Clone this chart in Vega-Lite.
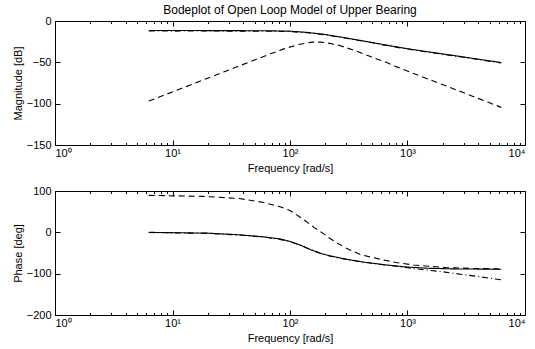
{
  "$schema": "https://vega.github.io/schema/vega-lite/v6.json",
  "padding": {"left": 11, "top": 3, "right": 0, "bottom": 0},
  "background": "white",
  "config": {
    "view": {"stroke": "black", "strokeWidth": 1},
    "font": "Liberation Sans",
    "axis": {
      "domain": false, "grid": false,
      "labelFont": "Liberation Sans", "labelFontSize": 11, "labelColor": "black",
      "titleFont": "Liberation Sans", "titleFontSize": 11, "titleFontWeight": "normal", "titleColor": "black",
      "tickColor": "black", "tickWidth": 1
    }
  },
  "spacing": 10,
  "datasets": {
    "mag": [
      {"f": 6.283, "v": -11.5, "s": "solid"}, {"f": 10, "v": -11.5, "s": "solid"}, {"f": 20, "v": -11.6, "s": "solid"}, {"f": 40, "v": -11.7, "s": "solid"}, {"f": 70, "v": -11.9, "s": "solid"}, {"f": 100, "v": -12.3, "s": "solid"}, {"f": 140, "v": -13.8, "s": "solid"}, {"f": 200, "v": -16.3, "s": "solid"}, {"f": 300, "v": -20.5, "s": "solid"}, {"f": 500, "v": -26, "s": "solid"}, {"f": 700, "v": -29.8, "s": "solid"}, {"f": 1000, "v": -33.5, "s": "solid"}, {"f": 1500, "v": -37.3, "s": "solid"}, {"f": 3000, "v": -43.5, "s": "solid"}, {"f": 6283, "v": -50.3, "s": "solid"},
      {"f": 6.283, "v": -12.1, "s": "dashdot"}, {"f": 10, "v": -12.2, "s": "dashdot"}, {"f": 20, "v": -12.1, "s": "dashdot"}, {"f": 40, "v": -12.3, "s": "dashdot"}, {"f": 70, "v": -12.4, "s": "dashdot"}, {"f": 100, "v": -12.8, "s": "dashdot"}, {"f": 140, "v": -14.2, "s": "dashdot"}, {"f": 200, "v": -16.7, "s": "dashdot"}, {"f": 300, "v": -20.9, "s": "dashdot"}, {"f": 500, "v": -26.4, "s": "dashdot"}, {"f": 700, "v": -30.2, "s": "dashdot"}, {"f": 1000, "v": -33.9, "s": "dashdot"}, {"f": 1500, "v": -37.7, "s": "dashdot"}, {"f": 3000, "v": -43.9, "s": "dashdot"}, {"f": 6283, "v": -50.8, "s": "dashdot"},
      {"f": 6.283, "v": -96.9, "s": "dashed"}, {"f": 12.3, "v": -80.8, "s": "dashed"}, {"f": 27.2, "v": -61.7, "s": "dashed"}, {"f": 60.5, "v": -42.6, "s": "dashed"}, {"f": 90, "v": -33.4, "s": "dashed"}, {"f": 118, "v": -28.5, "s": "dashed"}, {"f": 153, "v": -25.6, "s": "dashed"}, {"f": 180, "v": -25.5, "s": "dashed"}, {"f": 200, "v": -26.1, "s": "dashed"}, {"f": 261, "v": -29.4, "s": "dashed"}, {"f": 364, "v": -36.2, "s": "dashed"}, {"f": 508, "v": -44.2, "s": "dashed"}, {"f": 660, "v": -50, "s": "dashed"}, {"f": 809, "v": -55.5, "s": "dashed"}, {"f": 1290, "v": -66.7, "s": "dashed"}, {"f": 1920, "v": -76.1, "s": "dashed"}, {"f": 3055, "v": -87.2, "s": "dashed"}, {"f": 4875, "v": -98.4, "s": "dashed"}, {"f": 6283, "v": -104.5, "s": "dashed"}
    ],
    "phase": [
      {"f": 6.283, "v": 0, "s": "solid"}, {"f": 20, "v": -2, "s": "solid"}, {"f": 37, "v": -6, "s": "solid"}, {"f": 60, "v": -11, "s": "solid"}, {"f": 82, "v": -16, "s": "solid"}, {"f": 100, "v": -22, "s": "solid"}, {"f": 125, "v": -32, "s": "solid"}, {"f": 150, "v": -42, "s": "solid"}, {"f": 180, "v": -50.5, "s": "solid"}, {"f": 220, "v": -57, "s": "solid"}, {"f": 300, "v": -65, "s": "solid"}, {"f": 420, "v": -72, "s": "solid"}, {"f": 665, "v": -79, "s": "solid"}, {"f": 1000, "v": -84, "s": "solid"}, {"f": 1500, "v": -87, "s": "solid"}, {"f": 2500, "v": -88.5, "s": "solid"}, {"f": 6283, "v": -89.3, "s": "solid"},
      {"f": 6.283, "v": -0.5, "s": "dashdot"}, {"f": 20, "v": -2.5, "s": "dashdot"}, {"f": 37, "v": -6.5, "s": "dashdot"}, {"f": 60, "v": -11.5, "s": "dashdot"}, {"f": 82, "v": -17, "s": "dashdot"}, {"f": 100, "v": -22.5, "s": "dashdot"}, {"f": 125, "v": -32, "s": "dashdot"}, {"f": 150, "v": -42, "s": "dashdot"}, {"f": 180, "v": -50, "s": "dashdot"}, {"f": 220, "v": -57.5, "s": "dashdot"}, {"f": 300, "v": -65.5, "s": "dashdot"}, {"f": 420, "v": -72, "s": "dashdot"}, {"f": 665, "v": -79.5, "s": "dashdot"}, {"f": 1000, "v": -85.5, "s": "dashdot"}, {"f": 1277, "v": -89.5, "s": "dashdot"}, {"f": 2000, "v": -95.5, "s": "dashdot"}, {"f": 2455, "v": -99, "s": "dashdot"}, {"f": 4000, "v": -107, "s": "dashdot"}, {"f": 6283, "v": -115, "s": "dashdot"},
      {"f": 6.283, "v": 89.5, "s": "dashed"}, {"f": 18, "v": 87, "s": "dashed"}, {"f": 37, "v": 82, "s": "dashed"}, {"f": 60, "v": 72, "s": "dashed"}, {"f": 82, "v": 62, "s": "dashed"}, {"f": 100, "v": 53, "s": "dashed"}, {"f": 129, "v": 32, "s": "dashed"}, {"f": 160, "v": 12, "s": "dashed"}, {"f": 190, "v": -2, "s": "dashed"}, {"f": 219, "v": -15, "s": "dashed"}, {"f": 260, "v": -28, "s": "dashed"}, {"f": 302, "v": -38.6, "s": "dashed"}, {"f": 400, "v": -54, "s": "dashed"}, {"f": 583, "v": -65, "s": "dashed"}, {"f": 800, "v": -73, "s": "dashed"}, {"f": 1120, "v": -79, "s": "dashed"}, {"f": 2130, "v": -85.4, "s": "dashed"}, {"f": 3700, "v": -87.5, "s": "dashed"}, {"f": 6283, "v": -88.5, "s": "dashed"}
    ]
  },
  "vconcat": [
    {
      "width": 470, "height": 124,
      "title": {"text": "Bodeplot of Open Loop Model of Upper Bearing", "font": "Liberation Sans", "fontSize": 12, "fontWeight": "normal", "color": "black", "anchor": "middle", "frame": "group", "offset": -2},
      "data": {"name": "mag"},
      "layer": [
        {
          "mark": {"type": "line", "color": "black", "strokeWidth": 1.1, "clip": true},
          "encoding": {
            "x": {"field": "f", "type": "quantitative", "scale": {"type": "log", "domain": [1, 10000], "nice": false},
              "axis": {"orient": "bottom", "title": "Frequency [rad/s]", "titlePadding": 2,
                "values": [1,2,3,4,5,6,7,8,9,10,20,30,40,50,60,70,80,90,100,200,300,400,500,600,700,800,900,1000,2000,3000,4000,5000,6000,7000,8000,9000,10000],
                "labelExpr": "abs(log(datum.value)/LN10 - round(log(datum.value)/LN10)) < 0.001 ? '10' + ['⁰','¹','²','³','⁴'][round(log(datum.value)/LN10)] : ''",
                "labelOverlap": false, "labelPadding": 7,
                "tickSize": {"condition": {"test": "abs(log(datum.value)/LN10 - round(log(datum.value)/LN10)) < 0.001", "value": -5}, "value": -2.5}}},
            "y": {"field": "v", "type": "quantitative", "scale": {"domain": [-150, 0], "nice": false, "zero": false},
              "axis": {"orient": "left", "title": "Magnitude [dB]", "values": [-150, -100, -50, 0], "tickSize": -5, "labelPadding": 9, "titlePadding": 3}},
            "strokeDash": {"field": "s", "type": "nominal", "scale": {"domain": ["solid", "dashed", "dashdot"], "range": [[1, 0], [6, 4], [6, 3, 1, 3]]}, "legend": null}
          }
        },
        {
          "mark": {"type": "point", "opacity": 0},
          "encoding": {
            "x": {"field": "f", "type": "quantitative", "scale": {"type": "log", "domain": [1, 10000], "nice": false},
              "axis": {"orient": "top", "title": null, "labels": false, "minExtent": 0, "maxExtent": 0,
                "values": [1,2,3,4,5,6,7,8,9,10,20,30,40,50,60,70,80,90,100,200,300,400,500,600,700,800,900,1000,2000,3000,4000,5000,6000,7000,8000,9000,10000],
                "tickSize": {"condition": {"test": "abs(log(datum.value)/LN10 - round(log(datum.value)/LN10)) < 0.001", "value": -5}, "value": -2.5}}},
            "y": {"field": "v", "type": "quantitative", "scale": {"domain": [-150, 0], "nice": false, "zero": false},
              "axis": {"orient": "right", "title": null, "labels": false, "minExtent": 0, "maxExtent": 0, "values": [-150, -100, -50, 0], "tickSize": -5}}
          }
        }
      ],
      "resolve": {"axis": {"x": "independent", "y": "independent"}}
    },
    {
      "width": 470, "height": 124,
      "data": {"name": "phase"},
      "layer": [
        {
          "mark": {"type": "line", "color": "black", "strokeWidth": 1.1, "clip": true},
          "encoding": {
            "x": {"field": "f", "type": "quantitative", "scale": {"type": "log", "domain": [1, 10000], "nice": false},
              "axis": {"orient": "bottom", "title": "Frequency [rad/s]", "titlePadding": 2,
                "values": [1,2,3,4,5,6,7,8,9,10,20,30,40,50,60,70,80,90,100,200,300,400,500,600,700,800,900,1000,2000,3000,4000,5000,6000,7000,8000,9000,10000],
                "labelExpr": "abs(log(datum.value)/LN10 - round(log(datum.value)/LN10)) < 0.001 ? '10' + ['⁰','¹','²','³','⁴'][round(log(datum.value)/LN10)] : ''",
                "labelOverlap": false, "labelPadding": 7,
                "tickSize": {"condition": {"test": "abs(log(datum.value)/LN10 - round(log(datum.value)/LN10)) < 0.001", "value": -5}, "value": -2.5}}},
            "y": {"field": "v", "type": "quantitative", "scale": {"domain": [-200, 100], "nice": false, "zero": false},
              "axis": {"orient": "left", "title": "Phase [deg]", "values": [-200, -100, 0, 100], "tickSize": -5, "labelPadding": 9, "titlePadding": 3}},
            "strokeDash": {"field": "s", "type": "nominal", "scale": {"domain": ["solid", "dashed", "dashdot"], "range": [[1, 0], [6, 4], [6, 3, 1, 3]]}, "legend": null}
          }
        },
        {
          "mark": {"type": "point", "opacity": 0},
          "encoding": {
            "x": {"field": "f", "type": "quantitative", "scale": {"type": "log", "domain": [1, 10000], "nice": false},
              "axis": {"orient": "top", "title": null, "labels": false, "minExtent": 0, "maxExtent": 0,
                "values": [1,2,3,4,5,6,7,8,9,10,20,30,40,50,60,70,80,90,100,200,300,400,500,600,700,800,900,1000,2000,3000,4000,5000,6000,7000,8000,9000,10000],
                "tickSize": {"condition": {"test": "abs(log(datum.value)/LN10 - round(log(datum.value)/LN10)) < 0.001", "value": -5}, "value": -2.5}}},
            "y": {"field": "v", "type": "quantitative", "scale": {"domain": [-200, 100], "nice": false, "zero": false},
              "axis": {"orient": "right", "title": null, "labels": false, "minExtent": 0, "maxExtent": 0, "values": [-200, -100, 0, 100], "tickSize": -5}}
          }
        }
      ],
      "resolve": {"axis": {"x": "independent", "y": "independent"}}
    }
  ]
}
